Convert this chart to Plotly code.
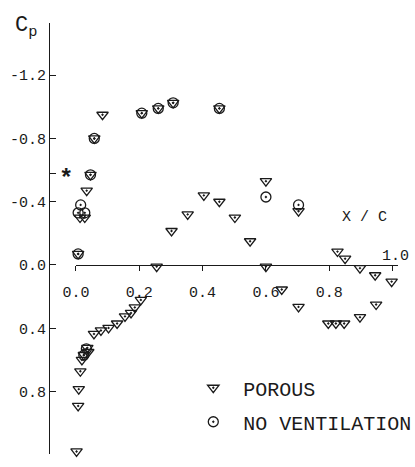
import plotly.graph_objects as go

# Pressure distribution, chordwise position x/c vs pressure coefficient Cp
porous_x = [0.007, 0.013, 0.028, 0.034, 0.046, 0.058, 0.084, 0.208, 0.260, 0.307, 0.453,
            0.255, 0.302, 0.353, 0.404, 0.453, 0.502, 0.550, 0.600, 0.600, 0.650, 0.703,
            0.703, 0.797, 0.821, 0.847, 0.826, 0.850, 0.897, 0.897, 0.945, 0.948, 0.997,
            0.205, 0.186, 0.174, 0.155, 0.130, 0.103, 0.079, 0.057, 0.036, 0.039, 0.025,
            0.019, 0.014, 0.009, 0.007, 0.002]
porous_cp = [-0.07, -0.30, -0.30, -0.47, -0.57, -0.80, -0.95, -0.96, -0.99, -1.025, -0.99,
             0.01, -0.215, -0.32, -0.44, -0.40, -0.30, -0.15, -0.53, 0.01, 0.155, -0.34,
             0.265, 0.37, 0.37, 0.37, -0.085, -0.04, 0.02, 0.33, 0.065, 0.25, 0.105,
             0.221, 0.268, 0.303, 0.325, 0.37, 0.398, 0.414, 0.436, 0.524, 0.55, 0.569,
             0.60, 0.672, 0.785, 0.891, 1.179]

noven_x = [0.007, 0.015, 0.007, 0.028, 0.046, 0.058, 0.208, 0.260, 0.307, 0.453,
           0.600, 0.703, 0.033, 0.025]
noven_cp = [-0.07, -0.38, -0.33, -0.33, -0.57, -0.80, -0.96, -0.99, -1.025, -0.99,
            -0.43, -0.38, 0.53, 0.57]

# Critical pressure coefficient marked on the Cp axis
cp_star = -0.58
cp_star_x = -0.032

y_ticks = [-1.2, -0.8, cp_star, -0.4, 0.0, 0.4, 0.8, 1.2]
y_labels = ["-1.2", "-0.8", "", "-0.4", "0.0", "0.4", "0.8", "1.2"]
x_ticks = [0.0, 0.2, 0.4, 0.6, 0.8, 1.0]
x_labels = ["0.0", "0.2", "0.4", "0.6", "0.8", ""]

# the Cp axis sits a little to the left of the leading edge
X_LEFT = -0.085
X_END = 1.017
X_RIGHT = 1.055
Y_RANGE = [1.195, -1.53]

FONT = "Liberation Mono"
INK = "#1a1a1a"

span = X_RIGHT - X_LEFT
x_domain = [(0 - X_LEFT) / span, (X_END - X_LEFT) / span]
zero_pos = Y_RANGE[0] / (Y_RANGE[0] - Y_RANGE[1])

# the Cp* mark lies left of the chord axis, so place it in paper units
star_px = (cp_star_x - X_LEFT) / span
star_py = (Y_RANGE[0] - cp_star) / (Y_RANGE[0] - Y_RANGE[1])

fig = go.Figure()

fig.add_trace(go.Scatter(
    x=porous_x, y=porous_cp, mode="markers", name="POROUS",
    legendgroup="a", cliponaxis=False,
    marker=dict(symbol="triangle-down-open-dot", size=10, color=INK,
                line=dict(width=1.3, color=INK)),
))
fig.add_trace(go.Scatter(
    x=noven_x, y=noven_cp, mode="markers", name="NO VENTILATION",
    legendgroup="b", cliponaxis=False,
    marker=dict(symbol="circle-open-dot", size=10, color=INK,
                line=dict(width=1.3, color=INK)),
))

fig.update_layout(
    width=415, height=467,
    margin=dict(l=49, r=5, t=23, b=13, autoexpand=False),
    paper_bgcolor="white", plot_bgcolor="white",
    font=dict(family=FONT, color=INK),
    xaxis=dict(domain=x_domain, range=[0, X_END], anchor="free", position=zero_pos,
               showline=True, linecolor=INK, linewidth=1,
               ticks="outside", ticklen=5, tickcolor=INK, tickwidth=1,
               tickvals=x_ticks, ticktext=x_labels, showgrid=False, zeroline=False,
               ticklabelstandoff=8,
               tickfont=dict(family=FONT, size=15, color=INK)),
    yaxis=dict(range=Y_RANGE, anchor="free", position=0,
               showline=True, linecolor=INK, linewidth=1,
               ticks="inside", ticklen=6, tickcolor=INK, tickwidth=1,
               tickvals=y_ticks, ticktext=y_labels, showgrid=False, zeroline=False,
               tickfont=dict(family=FONT, size=15, color=INK)),
    legend=dict(x=0.372, y=0.199, xanchor="left", yanchor="top",
                font=dict(family=FONT, size=20, color=INK),
                itemwidth=50, tracegroupgap=5, traceorder="grouped",
                bgcolor="rgba(0,0,0,0)"),
    annotations=[
        dict(text="C<sub>p</sub>", xref="paper", yref="paper", x=-0.1, y=0.99,
             xanchor="left", yanchor="middle", showarrow=False,
             font=dict(family=FONT, size=22, color=INK)),
        dict(text="<b>*</b>", xref="paper", yref="paper", x=star_px, y=star_py,
             xanchor="center", yanchor="middle", yshift=-6, showarrow=False,
             font=dict(family=FONT, size=24, color=INK)),
        dict(text="X / C", xref="x", yref="y", x=0.91, y=-0.30,
             showarrow=False, font=dict(family=FONT, size=15, color=INK)),
        dict(text="1.0", xref="x", yref="y", x=1.0, y=0.0, xanchor="center",
             yanchor="middle", xshift=3, yshift=8, showarrow=False,
             font=dict(family=FONT, size=15, color=INK)),
    ],
)

fig.write_html("out.html")
